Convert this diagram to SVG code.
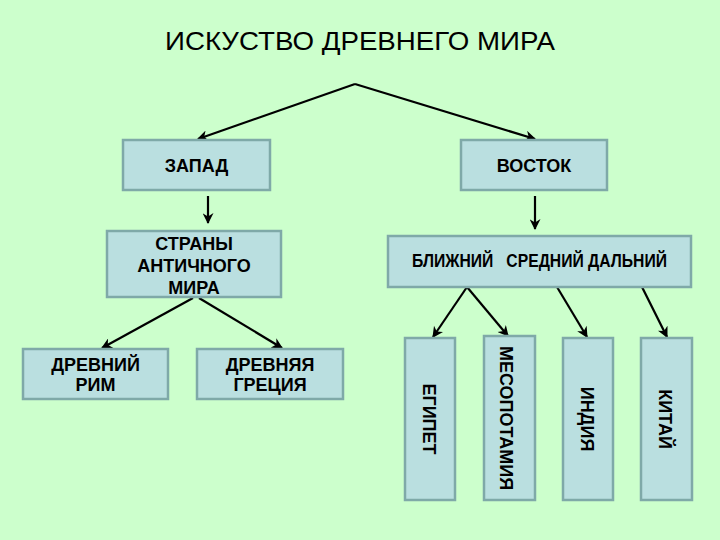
<svg xmlns="http://www.w3.org/2000/svg" width="720" height="540" viewBox="0 0 720 540">
<defs>
<style>
.box{fill:#badfe0;stroke:#7fa9a8;stroke-width:2.5}
.t{font-family:"Liberation Sans",Arial,sans-serif;font-weight:bold;font-size:18px;fill:#000;text-anchor:middle}
.c{stroke:#000;stroke-width:2.2;fill:none;marker-end:url(#ah)}
</style>
<marker id="ah" viewBox="0 0 10 10" refX="9" refY="5" markerWidth="5.5" markerHeight="5" orient="auto">
<path d="M0,0 L10,5 L0,10 L3,5 Z" fill="#000"/>
</marker>
</defs>
<rect width="720" height="540" fill="#ccffcc"/>
<text x="360" y="50" font-family="'Liberation Sans',Arial,sans-serif" font-size="25" text-anchor="middle" textLength="390" lengthAdjust="spacingAndGlyphs">ИСКУСТВО ДРЕВНЕГО МИРА</text>
<g id="connectors">
<path class="c" d="M355,84 L198,139"/>
<path class="c" d="M355,84 L535,139"/>
<path class="c" d="M208,196 L208,223"/>
<path class="c" d="M535,196 L535,229"/>
<path class="c" d="M193,298 L102,348"/>
<path class="c" d="M199,298 L282,348"/>
<path class="c" d="M467,287 L433,337"/>
<path class="c" d="M467,287 L508,336"/>
<path class="c" d="M557,287 L587,337"/>
<path class="c" d="M642,287 L667,337"/>
</g>
<g id="zapad"><rect class="box" x="123" y="140" width="147" height="50"/><text class="t" x="196.5" y="172">ЗАПАД</text></g>
<g id="vostok"><rect class="box" x="461" y="140" width="146" height="50"/><text class="t" x="534" y="172">ВОСТОК</text></g>
<g id="strany"><rect class="box" x="107" y="231" width="174" height="66"/><text class="t" x="194" y="250">СТРАНЫ</text><text class="t" x="194" y="272">АНТИЧНОГО</text><text class="t" x="194" y="294">МИРА</text></g>
<g id="blizhniy"><rect class="box" x="388" y="236" width="303" height="51"/><text class="t" x="539.5" y="267" font-size="16" xml:space="preserve" textLength="255" lengthAdjust="spacingAndGlyphs">БЛИЖНИЙ   СРЕДНИЙ ДАЛЬНИЙ</text></g>
<g id="rim"><rect class="box" x="23" y="349" width="145" height="50"/><text class="t" x="95.5" y="371">ДРЕВНИЙ</text><text class="t" x="95.5" y="391">РИМ</text></g>
<g id="greciya"><rect class="box" x="197" y="349" width="146" height="50"/><text class="t" x="270" y="371">ДРЕВНЯЯ</text><text class="t" x="270" y="391">ГРЕЦИЯ</text></g>
<g id="egipet"><rect class="box" x="405" y="338" width="50" height="162"/><text class="t" transform="translate(423,419) rotate(90)">ЕГИПЕТ</text></g>
<g id="mesopotamiya"><rect class="box" x="484" y="336" width="51" height="164"/><text class="t" transform="translate(500,418) rotate(90)">МЕСОПОТАМИЯ</text></g>
<g id="indiya"><rect class="box" x="563" y="338" width="50" height="162"/><text class="t" transform="translate(581,419) rotate(90)">ИНДИЯ</text></g>
<g id="kitay"><rect class="box" x="641" y="338" width="51" height="162"/><text class="t" transform="translate(659,419) rotate(90)">КИТАЙ</text></g>
</svg>
